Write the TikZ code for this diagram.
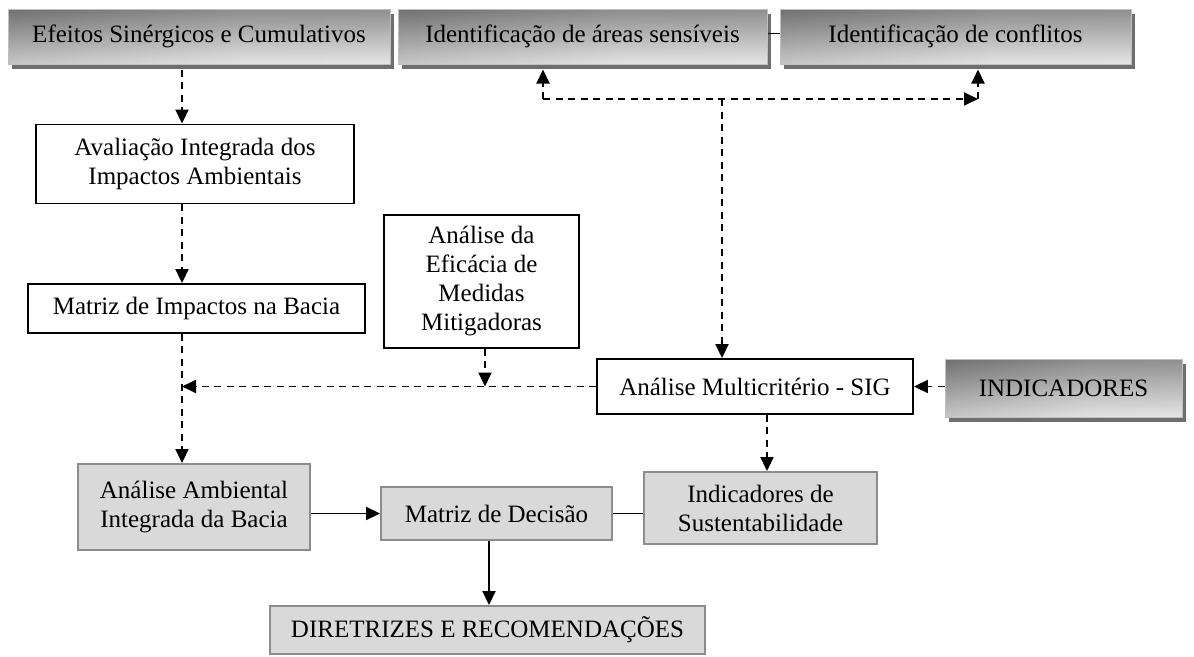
\documentclass[tikz,border=0pt]{standalone}
\usepackage{fontspec}
\setmainfont{Liberation Serif}
\usetikzlibrary{arrows.meta,shadows,calc}
\pgfdeclarehorizontalshading{metal}{100bp}{color(0bp)=(black!62); color(25bp)=(black!40); color(55bp)=(black!20); color(78bp)=(black!18); color(100bp)=(black!38)}
\begin{document}
\begin{tikzpicture}[x=1pt,y=-1pt,
  font=\fontsize{25}{29}\selectfont,
  wbox/.style={draw=black, line width=1.9pt, fill=white, align=center, inner sep=0pt},
  gbox/.style={draw=black!45, line width=1.9pt, fill=black!15, align=center, inner sep=0pt},
  mbox/.style={draw=black!25, line width=1pt, shade, shading=metal, align=center, inner sep=0pt,
    drop shadow={shadow xshift=4pt, shadow yshift=-5pt, fill=black!57, opacity=1},
    path picture={\shade[top color=black!75, bottom color=white, opacity=0.45]
      (path picture bounding box.south west) rectangle (path picture bounding box.north east);}},
  dasharrow/.style={dash pattern=on 7pt off 5.5pt, line width=1.9pt, -{Triangle[length=14pt,width=13pt]}},
  solidarrow/.style={line width=1.9pt, -{Triangle[length=14pt,width=13pt]}},
  plain/.style={line width=1.9pt}
]
\useasboundingbox (0,0) rectangle (1194,656);

% top metal boxes
\node[mbox, minimum width=382pt, minimum height=55pt] (b1) at (199,36.5) {Efeitos Sinérgicos e Cumulativos};
\node[mbox, minimum width=369pt, minimum height=55pt] (b2) at (582.5,36.5) {Identificação de áreas sensíveis};
\node[mbox, minimum width=351pt, minimum height=55pt] (b3) at (955.5,36.5) {Identificação de conflitos};
\node[mbox, minimum width=237pt, minimum height=58pt] (indic) at (1063.5,388) {INDICADORES};

% white boxes
\node[wbox, minimum width=318pt, minimum height=79pt] (aval) at (195,164) {Avaliação Integrada dos\\Impactos Ambientais};
\node[wbox, minimum width=337pt, minimum height=49pt] (mimp) at (196.5,308.5) {Matriz de Impactos na Bacia};
\node[wbox, minimum width=195pt, minimum height=133pt] (aefi) at (481.5,281.5) {Análise da\\Eficácia de\\Medidas\\Mitigadoras};
\node[wbox, minimum width=316pt, minimum height=55pt] (multi) at (755,386.5) {Análise Multicritério - SIG};

% gray boxes
\node[gbox, minimum width=232pt, minimum height=86pt] (aamb) at (194,507) {Análise Ambiental\\Integrada da Bacia};
\node[gbox, minimum width=231pt, minimum height=53pt] (mdec) at (496.5,513.5) {Matriz de Decisão};
\node[gbox, minimum width=233pt, minimum height=72pt] (isust) at (760.5,508) {Indicadores de\\Sustentabilidade};
\node[gbox, minimum width=435pt, minimum height=48pt] (dir) at (487.5,630) {DIRETRIZES E RECOMENDAÇÕES};

% helper coordinates
\coordinate (xA) at (182,0);
\coordinate (xL) at (543,99);
\coordinate (xR) at (978,99);
\coordinate (jT) at (722,99);
\coordinate (xS) at (767,0);
\coordinate (xD) at (489,0);
\coordinate (xE) at (485,0);

% connectors
\draw[plain] ([yshift=3pt]b2.east) -- ([yshift=3pt]b3.west);
\draw[dasharrow] (xL) -- ([yshift=-5pt]b2.south -| xL);
\draw[dasharrow] (xL) -- (xR);
\draw[dasharrow] (xR) -- ([yshift=-5pt]b3.south -| xR);
\draw[dasharrow] (jT) -- (multi.north -| jT);

\draw[dasharrow] ([yshift=-5pt]b1.south -| xA) -- (aval.north -| xA);
\draw[dasharrow] (aval.south -| xA) -- (mimp.north -| xA);
\draw[dasharrow] (mimp.south -| xA) -- (aamb.north -| xA);
\draw[dasharrow] (multi.west) -- (multi.west -| xA);
\draw[dasharrow] (aefi.south -| xE) -- (multi.west -| xE);
\draw[dasharrow] (indic.west |- multi.east) -- (multi.east);
\draw[dasharrow] (multi.south -| xS) -- (isust.north -| xS);

\draw[solidarrow] (aamb.east |- mdec.west) -- (mdec.west);
\draw[plain] (mdec.east) -- (mdec.east -| isust.west);
\draw[solidarrow] (mdec.south -| xD) -- (dir.north -| xD);
\end{tikzpicture}
\end{document}
